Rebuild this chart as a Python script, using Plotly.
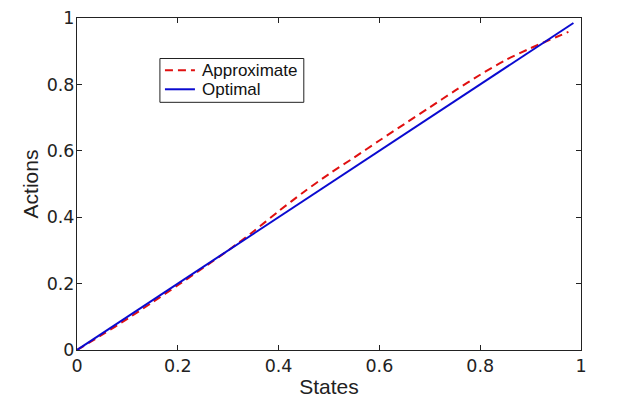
import plotly.graph_objects as go

# Data
opt_x = [0.0, 0.985]
opt_y = [0.0, 0.985]

approx_x = [0.0, 0.05, 0.10, 0.15, 0.20, 0.25, 0.30, 0.35, 0.40, 0.45, 0.50,
            0.55, 0.60, 0.65, 0.70, 0.75, 0.80, 0.85, 0.90, 0.95, 0.975]
approx_y = [0.0, 0.046, 0.094, 0.144, 0.195, 0.247, 0.300, 0.357, 0.418, 0.476, 0.530,
            0.580, 0.631, 0.681, 0.731, 0.781, 0.829, 0.873, 0.909, 0.942, 0.958]

x_ticks = [0, 0.2, 0.4, 0.6, 0.8, 1]
x_tick_labels = ["0", "0.2", "0.4", "0.6", "0.8", "1"]
y_ticks = [0, 0.2, 0.4, 0.6, 0.8, 1]
y_tick_labels = ["0", "0.2", "0.4", "0.6", "0.8", "1"]

series_names = ["Approximate", "Optimal"]
series_colors = ["#e01010", "#0a0ad0"]
series_dash = ["8px,5px", "solid"]

SANS = "Liberation Sans, Arial, Helvetica, sans-serif"
WIDE = "DejaVu Sans, Liberation Sans, sans-serif"
INK = "#222222"

fig = go.Figure()
fig.add_trace(go.Scatter(x=approx_x, y=approx_y, mode="lines", name=series_names[0],
                         line=dict(color=series_colors[0], width=2, dash=series_dash[0],
                                   shape="spline", smoothing=0.8)))
fig.add_trace(go.Scatter(x=opt_x, y=opt_y, mode="lines", name=series_names[1],
                         line=dict(color=series_colors[1], width=2, dash=series_dash[1])))

axis_common = dict(showgrid=False, zeroline=False, showline=True, linecolor=INK,
                   linewidth=1, mirror="ticks", ticks="inside", ticklen=5,
                   tickcolor=INK, tickwidth=1, automargin=False,
                   tickfont=dict(family=WIDE, size=17.5, color=INK))

fig.update_xaxes(range=[0, 1], tickvals=x_ticks, ticktext=x_tick_labels,
                 title=dict(text="States", font=dict(family=SANS, size=21, color=INK), standoff=4),
                 **axis_common)
fig.update_yaxes(range=[0, 1], tickvals=y_ticks, ticktext=y_tick_labels, ticklabelstandoff=-2,
                 title=dict(text="Actions", font=dict(family=SANS, size=21, color=INK), standoff=2),
                 **axis_common)

# Legend box drawn in paper coordinates (MATLAB-style compact legend)
lx0, lx1, ly0, ly1 = 0.1645, 0.45, 0.746, 0.878
row_y = [0.8423, 0.7853]
sample_x0, sample_x1, text_x = 0.1745, 0.234, 0.2438
shapes = [dict(type="rect", xref="paper", yref="paper", x0=lx0, x1=lx1, y0=ly0, y1=ly1,
               line=dict(color=INK, width=1), fillcolor="white", layer="above")]
annotations = []
for name, color, dash, yy in zip(series_names, series_colors, series_dash, row_y):
    shapes.append(dict(type="line", xref="paper", yref="paper", x0=sample_x0, x1=sample_x1,
                       y0=yy, y1=yy, line=dict(color=color, width=2, dash=dash), layer="above"))
    annotations.append(dict(text=name, xref="paper", yref="paper", x=text_x, y=yy,
                            xanchor="left", yanchor="middle", showarrow=False,
                            font=dict(family=SANS, size=17, color="#111")))

fig.update_layout(
    width=617, height=414,
    margin=dict(l=69, r=43.5, t=9.5, b=71.5),
    paper_bgcolor="white", plot_bgcolor="white",
    showlegend=False,
    shapes=shapes,
    annotations=annotations,
)

fig.write_html("out.html")
